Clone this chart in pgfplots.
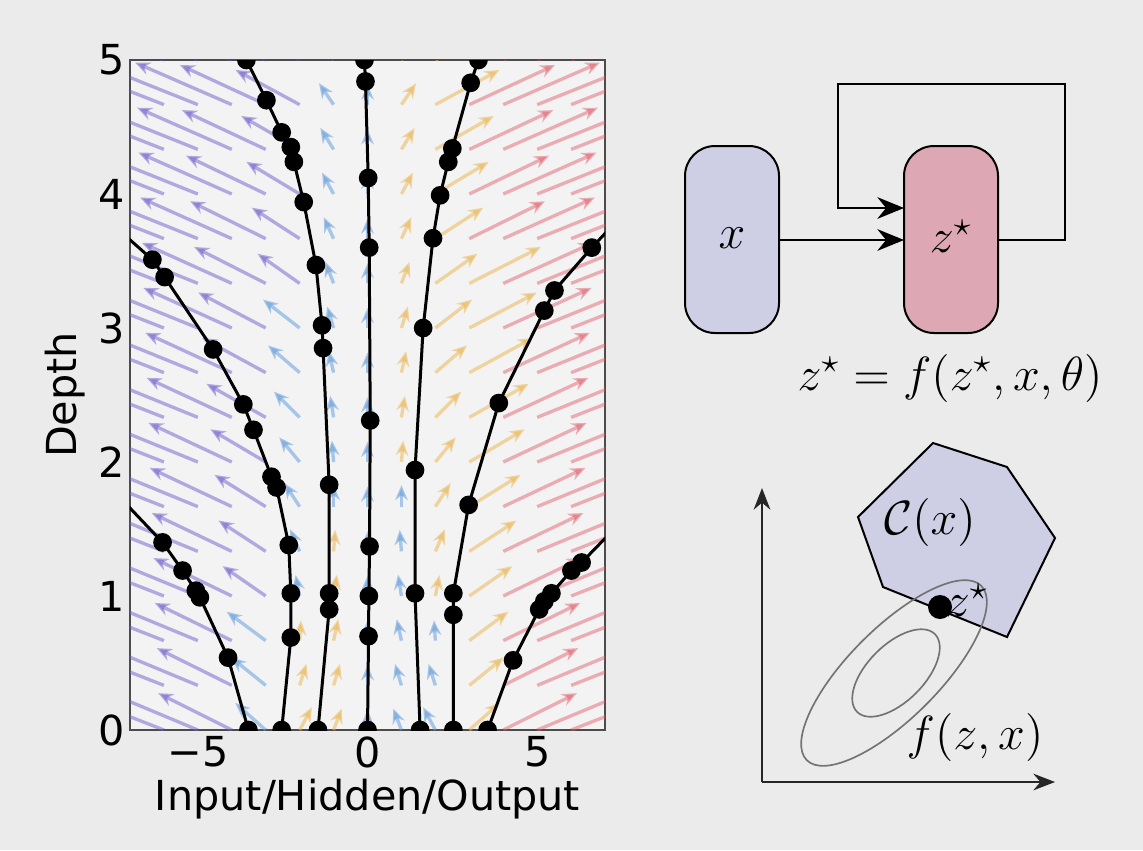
\documentclass[border=0pt]{standalone}
\usepackage{fontspec}
\setmainfont{DejaVu Sans}
\usepackage{pgfplots}
\usepackage{pgfplotstable}
\pgfplotsset{compat=1.18}
\usetikzlibrary{arrows.meta}
\definecolor{bgc}{RGB}{235,235,235}
\definecolor{plotbg}{RGB}{243,243,243}
\definecolor{qpurple}{RGB}{110,95,205}
\definecolor{qblue}{RGB}{105,160,220}
\definecolor{qyellow}{RGB}{235,185,90}
\definecolor{qred}{RGB}{225,85,100}
\definecolor{boxx}{RGB}{206,206,229}
\definecolor{boxz}{RGB}{221,168,179}

\pgfplotstableread{
x y u v
-6 0 -3.62 0.359
-6 0.333 -3.62 0.359
-6 0.667 -3.62 0.359
-6 1 -3.62 0.359
-6 1.333 -3.62 0.359
-6 1.667 -3.62 0.359
-6 2 -3.62 0.359
-6 2.333 -3.62 0.359
-6 2.667 -3.62 0.359
-6 3 -3.62 0.359
-6 3.333 -3.62 0.359
-6 3.667 -3.62 0.359
-6 4 -3.62 0.359
-6 4.333 -3.62 0.359
-6 4.667 -3.62 0.359
-6 5 -3.62 0.359
-5 0 -3.13 0.331
-5 0.333 -3.16 0.332
-5 0.667 -3.19 0.334
-5 1 -3.21 0.335
-5 1.333 -3.23 0.337
-5 1.667 -3.25 0.338
-5 2 -3.28 0.339
-5 2.333 -3.31 0.341
-5 2.667 -3.32 0.342
-5 3 -3.35 0.344
-5 3.333 -3.38 0.345
-5 3.667 -3.40 0.346
-5 4 -3.43 0.348
-5 4.333 -3.44 0.349
-5 4.667 -3.47 0.351
-5 5 -3.50 0.352
-4 0 -2.17 0.275
-4 0.333 -2.21 0.278
-4 0.667 -2.27 0.281
-4 1 -2.31 0.283
-4 1.333 -2.36 0.286
-4 1.667 -2.42 0.289
-4 2 -2.46 0.292
-4 2.333 -2.51 0.295
-4 2.667 -2.55 0.297
-4 3 -2.61 0.300
-4 3.333 -2.65 0.303
-4 3.667 -2.70 0.306
-4 4 -2.75 0.309
-4 4.333 -2.79 0.311
-4 4.667 -2.85 0.314
-4 5 -2.89 0.317
-3 1 -1.27 0.223
-3 1.333 -1.39 0.230
-3 1.667 -1.51 0.237
-3 2 -1.63 0.244
-3 2.333 -1.75 0.251
-3 2.667 -1.87 0.258
-3 3 -1.99 0.265
-3 3.333 -2.11 0.272
-3 3.667 -2.23 0.279
-3 4 -2.35 0.286
-3 4.333 -2.47 0.293
-3 4.667 -2.53 0.296
-3 5 -2.53 0.296
-2 3.333 -1.24 0.221
-2 3.667 -1.41 0.231
-2 4 -1.57 0.240
-2 4.333 -1.72 0.249
-2 4.667 -1.89 0.259
-2 5 -2.05 0.268
}\purptab

\pgfplotstableread{
x y u v
-3 0 -0.90 0.202
-3 0.333 -1.02 0.209
-3 0.667 -1.15 0.216
-2 1 -0.12 0.156
-2 1.333 -0.28 0.165
-2 1.667 -0.45 0.175
-2 2 -0.60 0.184
-2 2.333 -0.76 0.193
-2 2.667 -0.93 0.203
-2 3 -1.08 0.212
-1 1.667 0 0.16
-1 2 -0.05 0.16
-1 2.333 -0.10 0.16
-1 2.667 -0.14 0.16
-1 3 -0.19 0.16
-1 3.333 -0.24 0.16
-1 3.667 -0.29 0.16
-1 4 -0.34 0.16
-1 4.333 -0.39 0.16
-1 4.667 -0.43 0.16
-1 5 -0.48 0.16
0 0 0 0.15
0 0.333 0 0.15
0 0.667 0 0.15
0 1 0 0.15
0 1.333 0 0.15
0 1.667 0 0.15
0 2 0 0.15
0 2.333 0 0.15
0 2.667 0 0.15
0 3 0 0.15
0 3.333 0 0.15
0 3.667 0 0.15
0 4 0 0.15
0 4.333 0 0.15
0 4.667 0 0.15
0 5 0 0.15
1 0 -0.24 0.16
1 0.333 -0.19 0.16
1 0.667 -0.14 0.16
1 1 -0.10 0.16
1 1.333 -0.05 0.16
1 1.667 0 0.16
2 0 -0.36 0.170
2 0.333 -0.20 0.161
2 0.667 -0.04 0.151
}\bluetab

\pgfplotstableread{
x y u v
-2 0 0.36 0.170
-2 0.333 0.20 0.161
-2 0.667 0.04 0.151
-1 0 0.24 0.16
-1 0.333 0.19 0.16
-1 0.667 0.14 0.16
-1 1 0.10 0.16
-1 1.333 0.05 0.16
1 2 0.05 0.16
1 2.333 0.10 0.16
1 2.667 0.14 0.16
1 3 0.19 0.16
1 3.333 0.24 0.16
1 3.667 0.29 0.16
1 4 0.34 0.16
1 4.333 0.39 0.16
1 4.667 0.43 0.16
1 5 0.48 0.16
2 1 0.12 0.156
2 1.333 0.28 0.165
2 1.667 0.45 0.175
2 2 0.60 0.184
2 2.333 0.76 0.193
2 2.667 0.93 0.203
2 3 1.08 0.212
2 3.333 1.24 0.221
2 3.667 1.41 0.231
2 4 1.57 0.240
2 4.333 1.72 0.249
2 4.667 1.89 0.259
2 5 2.05 0.268
3 0 0.90 0.202
3 0.333 1.02 0.209
3 0.667 1.15 0.216
3 1 1.27 0.223
3 1.333 1.39 0.230
3 1.667 1.51 0.237
3 2 1.63 0.244
3 2.333 1.75 0.251
3 2.667 1.87 0.258
3 3 1.99 0.265
3 3.333 2.11 0.272
}\yeltab

\pgfplotstableread{
x y u v
3 3.667 2.23 0.279
3 4 2.35 0.286
3 4.333 2.47 0.293
3 4.667 2.53 0.296
3 5 2.53 0.296
4 0 2.17 0.275
4 0.333 2.21 0.278
4 0.667 2.27 0.281
4 1 2.31 0.283
4 1.333 2.36 0.286
4 1.667 2.42 0.289
4 2 2.46 0.292
4 2.333 2.51 0.295
4 2.667 2.55 0.297
4 3 2.61 0.300
4 3.333 2.65 0.303
4 3.667 2.70 0.306
4 4 2.75 0.309
4 4.333 2.79 0.311
4 4.667 2.85 0.314
4 5 2.89 0.317
5 0 3.13 0.331
5 0.333 3.16 0.332
5 0.667 3.19 0.334
5 1 3.21 0.335
5 1.333 3.23 0.337
5 1.667 3.25 0.338
5 2 3.28 0.339
5 2.333 3.31 0.341
5 2.667 3.32 0.342
5 3 3.35 0.344
5 3.333 3.38 0.345
5 3.667 3.40 0.346
5 4 3.43 0.348
5 4.333 3.44 0.349
5 4.667 3.47 0.351
5 5 3.50 0.352
6 0 3.62 0.359
6 0.333 3.62 0.359
6 0.667 3.62 0.359
6 1 3.62 0.359
6 1.333 3.62 0.359
6 1.667 3.62 0.359
6 2 3.62 0.359
6 2.333 3.62 0.359
6 2.667 3.62 0.359
6 3 3.62 0.359
6 3.333 3.62 0.359
6 3.667 3.62 0.359
6 4 3.62 0.359
6 4.333 3.62 0.359
6 4.667 3.62 0.359
6 5 3.62 0.359
}\redtab

\begin{document}
\begin{tikzpicture}
\begin{scope}[x=0.3pt,y=-0.3pt]
\fill[bgc] (0,0) rectangle (1143,850);
\end{scope}
\useasboundingbox (0,0) rectangle (342.9pt,-255pt);

\begin{axis}[
  at={(39pt,-219pt)}, anchor=south west,
  width=142.5pt, height=201pt, scale only axis,
  xmin=-7, xmax=7, ymin=0, ymax=5,
  axis background/.style={fill=plotbg},
  axis line style={draw=black!70, line width=0.6pt},
  xtick={-5,0,5}, xticklabels={−5,0,5},
  ytick={0,1,2,3,4,5}, yticklabels={0,1,2,3,4,5},
  major tick length=0pt,
  tick label style={font=\fontsize{12.4}{14}\selectfont},
  label style={font=\fontsize{12.4}{14}\selectfont},
  xticklabel style={yshift=1.5pt},
  yticklabel style={xshift=2pt},
  xlabel={Input/Hidden/Output}, ylabel={Depth},
  xlabel style={at={(axis description cs:0.5,-0.103)}, anchor=center},
  ylabel style={at={(axis description cs:-0.137,0.5)}, anchor=center},
  clip marker paths=true,
]
\addplot[draw=qpurple, fill=qpurple, opacity=0.5, line width=1pt, -{Stealth[length=4.5pt,width=3.8pt]},
  quiver={u=\thisrow{u},v=\thisrow{v}}] table[x=x,y=y] {\purptab};
\addplot[draw=qblue, fill=qblue, opacity=0.55, line width=1pt, -{Stealth[length=4.5pt,width=3.8pt]},
  quiver={u=\thisrow{u},v=\thisrow{v}}] table[x=x,y=y] {\bluetab};
\addplot[draw=qyellow, fill=qyellow, opacity=0.55, line width=1pt, -{Stealth[length=4.5pt,width=3.8pt]},
  quiver={u=\thisrow{u},v=\thisrow{v}}] table[x=x,y=y] {\yeltab};
\addplot[draw=qred, fill=qred, opacity=0.45, line width=1pt, -{Stealth[length=4.5pt,width=3.8pt]},
  quiver={u=\thisrow{u},v=\thisrow{v}}] table[x=x,y=y] {\redtab};

\pgfplotsset{traj/.style={black, line width=0.9pt, mark=*, mark size=2.35pt, mark options={solid, fill=black}}}
\addplot[traj] coordinates {(-3.51,0) (-4.11,0.54) (-4.94,0.99) (-5.06,1.04) (-5.45,1.19) (-6.04,1.40) (-7.5,1.79)};
\addplot[traj] coordinates {(-2.53,0) (-2.26,0.69) (-2.26,1.02) (-2.32,1.38) (-2.68,1.81) (-2.83,1.89) (-3.36,2.24) (-3.66,2.43) (-4.55,2.84) (-5.98,3.38) (-6.34,3.51) (-7.5,3.77)};
\addplot[traj] coordinates {(-1.46,0) (-1.13,0.90) (-1.13,1.02) (-1.13,1.83) (-1.31,2.85) (-1.34,3.02) (-1.52,3.47) (-1.88,3.94) (-2.17,4.24) (-2.26,4.35) (-2.53,4.46) (-2.98,4.70) (-3.57,5.0)};
\addplot[traj] coordinates {(0,0) (0.03,0.70) (0.04,1.0) (0.06,1.37) (0.08,2.31) (0.05,3.60) (0.02,4.12) (-0.06,4.84) (-0.09,5.0)};
\addplot[traj] coordinates {(1.55,0) (1.40,1.02) (1.40,1.94) (1.64,3.0) (1.93,3.67) (2.14,3.99) (2.38,4.24) (2.5,4.34) (3.04,4.83) (3.27,5.0)};
\addplot[traj] coordinates {(2.53,0) (2.53,0.86) (2.53,1.02) (2.98,1.68) (3.87,2.44) (5.21,3.13) (5.51,3.28) (6.61,3.60) (7.5,3.84)};
\addplot[traj] coordinates {(3.54,0) (4.29,0.52) (5.06,0.90) (5.21,0.96) (5.42,1.02) (6.01,1.19) (6.31,1.25) (7.5,1.56)};
\end{axis}

\begin{scope}[x=0.3pt,y=-0.3pt, every node/.style={font=\fontsize{14.5}{17}\selectfont}]
\draw[fill=boxx, line width=0.6pt, rounded corners=9pt] (685,146) rectangle (779,333);
\draw[fill=boxz, line width=0.6pt, rounded corners=9pt] (904,146) rectangle (998,333);
\node at (732,238) {$x$};
\node at (951,236) {$z^\star$};
\draw[line width=0.6pt, -{Stealth[length=8pt,width=6.5pt]}] (779,240) -- (904,240);
\draw[line width=0.6pt, -{Stealth[length=8pt,width=6.5pt]}] (998,240) -- (1065,240) -- (1065,84) -- (838,84) -- (838,208) -- (904,208);
\node at (950,378) {$z^\star = f(z^\star, x, \theta)$};
\draw[line width=0.6pt, black!85, -{Stealth[length=6.5pt,width=5pt]}] (762,782) -- (762,488);
\draw[line width=0.6pt, black!85, -{Stealth[length=6.5pt,width=5pt]}] (762,782) -- (1055,782);
\draw[fill=boxx, line width=0.6pt] (933,443) -- (1007,467) -- (1055,538) -- (1007,637) -- (883,587) -- (858,517) -- cycle;
\draw[black!55, line width=0.5pt] (894,673) circle[x radius=37pt, y radius=13.5pt, rotate=45];
\draw[black!55, line width=0.5pt] (896,673) circle[x radius=16.5pt, y radius=8.5pt, rotate=45];
\fill[black] (940,607) circle[radius=3.6pt];
\node at (930,522) {$\mathcal{C}(x)$};
\node at (975,737) {$f(z,x)$};
\node at (967,600) {$z^\star$};
\end{scope}
\end{tikzpicture}
\end{document}
